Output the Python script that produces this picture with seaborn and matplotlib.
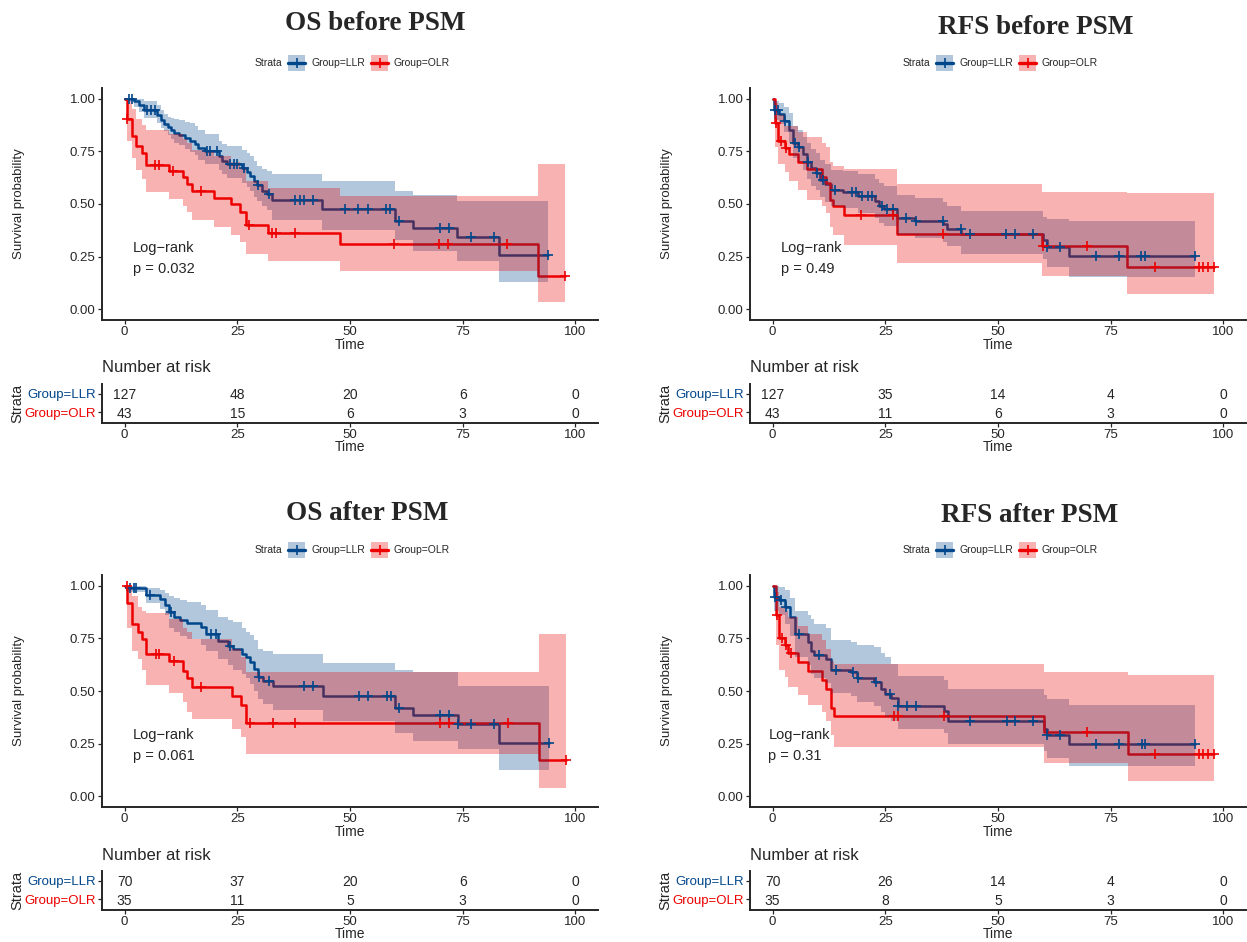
import numpy as np
import matplotlib
matplotlib.use('Agg')
import matplotlib.pyplot as plt
import seaborn as sns
from matplotlib.patches import Rectangle
from matplotlib.lines import Line2D

# ---------------- data ----------------
# OS before PSM
os_pre_llr_t = [2.1, 3.2, 4.3, 7.2, 8.1, 8.7, 9.6, 10.2, 10.9, 12.0, 13.5, 14.6, 15.7, 16.4, 17.9, 20.9, 21.6, 22.7,
                26.0, 27.1, 27.8, 28.7, 29.3, 30.4, 31.5, 32.8, 43.7, 60.0, 63.9, 73.8, 83.0]
os_pre_llr_s = [0.987, 0.971, 0.948, 0.924, 0.900, 0.880, 0.864, 0.853, 0.837, 0.826, 0.814, 0.801, 0.785, 0.766,
                0.750, 0.727, 0.703, 0.690, 0.671, 0.652, 0.632, 0.608, 0.592, 0.564, 0.548, 0.521, 0.477, 0.419,
                0.388, 0.344, 0.257]
os_pre_llr_hi = [1.0, 1.0, 0.99, 0.97, 0.948, 0.925, 0.913, 0.91, 0.905, 0.897, 0.89, 0.884, 0.868, 0.853, 0.834,
                 0.797, 0.785, 0.773, 0.758, 0.742, 0.726, 0.705, 0.678, 0.665, 0.655, 0.643, 0.607, 0.564, 0.542,
                 0.515, 0.515]
os_pre_llr_lo = [0.96, 0.935, 0.91, 0.885, 0.862, 0.845, 0.825, 0.81, 0.79, 0.778, 0.762, 0.748, 0.73, 0.71, 0.69,
                 0.66, 0.64, 0.625, 0.60, 0.58, 0.56, 0.535, 0.515, 0.49, 0.47, 0.425, 0.375, 0.33, 0.277, 0.229, 0.132]
os_pre_llr_cens = [0.9, 1.6, 5.0, 5.8, 6.7, 18.3, 19.0, 20.4, 23.3, 24.2, 24.9, 26.4, 29.7, 32.0, 37.8, 38.9, 39.7,
                   41.7, 48.9, 51.8, 53.9, 57.9, 58.8, 60.9, 69.9, 71.9, 76.9, 81.9, 93.9]
os_pre_olr_t = [0.5, 1.75, 2.6, 3.8, 4.8, 9.9, 12.9, 13.8, 14.9, 19.9, 23.6, 25.6, 26.9, 31.9, 47.7, 91.6]
os_pre_olr_s = [0.905, 0.824, 0.773, 0.742, 0.686, 0.658, 0.626, 0.596, 0.564, 0.528, 0.499, 0.464, 0.399, 0.364,
                0.309, 0.158]
os_pre_olr_hi = [0.99, 0.95, 0.905, 0.875, 0.853, 0.833, 0.81, 0.79, 0.757, 0.727, 0.70, 0.67, 0.61, 0.576, 0.54, 0.689]
os_pre_olr_lo = [0.80, 0.72, 0.66, 0.62, 0.555, 0.525, 0.49, 0.46, 0.425, 0.39, 0.355, 0.32, 0.265, 0.232, 0.18, 0.036]
os_pre_olr_cens = [0.6, 6.8, 7.6, 10.7, 16.9, 27.7, 32.6, 33.5, 37.9, 59.8, 69.8, 71.7, 84.9, 97.7]

# RFS before PSM
rfs_pre_llr_t = [0.3, 1.5, 2.5, 3.6, 4.6, 5.7, 6.8, 7.6, 8.6, 9.6, 10.5, 11.7, 13.0, 15.6, 19.0, 22.7, 23.7, 24.8,
                 27.6, 31.6, 37.9, 38.7, 41.9, 60.0, 60.8, 65.7]
rfs_pre_llr_s = [0.945, 0.925, 0.894, 0.849, 0.791, 0.770, 0.735, 0.700, 0.669, 0.648, 0.616, 0.596, 0.566, 0.558,
                 0.537, 0.513, 0.490, 0.474, 0.434, 0.421, 0.403, 0.382, 0.360, 0.331, 0.295, 0.252]
rfs_pre_llr_hi = [0.99, 0.98, 0.96, 0.93, 0.87, 0.85, 0.82, 0.79, 0.76, 0.74, 0.71, 0.69, 0.66, 0.655, 0.64, 0.62,
                  0.60, 0.585, 0.545, 0.53, 0.51, 0.49, 0.465, 0.44, 0.43, 0.418]
rfs_pre_llr_lo = [0.90, 0.88, 0.84, 0.79, 0.72, 0.70, 0.66, 0.62, 0.585, 0.565, 0.535, 0.51, 0.49, 0.48, 0.458, 0.435,
                  0.41, 0.395, 0.355, 0.34, 0.32, 0.30, 0.265, 0.24, 0.20, 0.152]
rfs_pre_llr_cens = [0.5, 1.3, 2.8, 5.0, 5.9, 7.9, 9.9, 11.1, 13.9, 17.7, 18.6, 19.9, 21.2, 22.0, 24.3, 25.4, 26.7,
                    29.7, 31.8, 37.7, 41.7, 43.7, 51.8, 53.7, 57.8, 60.8, 63.8, 71.7, 76.9, 81.8, 82.7, 93.8]
rfs_pre_olr_t = [0.6, 1.3, 2.7, 3.6, 5.7, 7.7, 10.9, 11.9, 12.8, 13.5, 15.8, 27.6, 59.7, 78.7]
rfs_pre_olr_s = [0.883, 0.80, 0.767, 0.735, 0.699, 0.664, 0.629, 0.60, 0.521, 0.49, 0.45, 0.36, 0.30, 0.201]
rfs_pre_olr_hi = [0.98, 0.92, 0.87, 0.87, 0.84, 0.82, 0.79, 0.77, 0.70, 0.68, 0.667, 0.596, 0.556, 0.55]
rfs_pre_olr_lo = [0.77, 0.69, 0.65, 0.61, 0.565, 0.52, 0.49, 0.455, 0.39, 0.355, 0.307, 0.22, 0.16, 0.074]
rfs_pre_olr_cens = [0.7, 1.9, 3.0, 19.6, 26.7, 37.9, 59.9, 69.8, 84.8, 94.5, 95.5, 96.5, 97.9]

# OS after PSM
os_post_llr_t = [0.6, 4.8, 7.9, 9.0, 9.9, 11.0, 12.3, 13.8, 16.9, 18.0, 20.8, 23.0, 24.1, 26.0, 26.9, 27.8, 28.7,
                 29.5, 30.7, 32.9, 44.0, 59.9, 64.0, 73.9, 83.0]
os_post_llr_s = [0.99, 0.955, 0.936, 0.908, 0.873, 0.852, 0.839, 0.823, 0.804, 0.769, 0.736, 0.713, 0.697, 0.677,
                 0.661, 0.637, 0.605, 0.565, 0.549, 0.525, 0.478, 0.419, 0.385, 0.342, 0.255]
os_post_llr_hi = [1.0, 0.99, 0.98, 0.965, 0.95, 0.94, 0.93, 0.92, 0.908, 0.884, 0.852, 0.835, 0.828, 0.80, 0.78,
                  0.764, 0.74, 0.70, 0.69, 0.674, 0.634, 0.60, 0.59, 0.525, 0.525]
os_post_llr_lo = [0.97, 0.916, 0.89, 0.86, 0.80, 0.78, 0.76, 0.745, 0.72, 0.69, 0.65, 0.625, 0.60, 0.58, 0.56, 0.535,
                  0.50, 0.46, 0.44, 0.411, 0.358, 0.30, 0.265, 0.223, 0.124]
os_post_llr_cens = [1.1, 2.0, 2.6, 5.7, 10.2, 19.1, 20.2, 23.4, 29.8, 32.0, 39.9, 41.9, 51.9, 53.9, 58.1, 59.0, 60.9,
                    69.9, 71.9, 73.9, 76.9, 82.0, 94.2]
os_post_olr_t = [0.6, 1.75, 2.9, 3.9, 4.8, 9.9, 12.9, 13.8, 14.9, 23.8, 25.9, 26.9, 92.0]
os_post_olr_s = [0.916, 0.817, 0.78, 0.745, 0.677, 0.64, 0.597, 0.562, 0.521, 0.478, 0.435, 0.346, 0.175]
os_post_olr_hi = [0.99, 0.95, 0.90, 0.88, 0.868, 0.84, 0.80, 0.78, 0.745, 0.70, 0.66, 0.592, 0.768]
os_post_olr_lo = [0.80, 0.69, 0.65, 0.60, 0.53, 0.49, 0.446, 0.40, 0.366, 0.32, 0.28, 0.202, 0.04]
os_post_olr_cens = [0.5, 7.0, 7.7, 11.0, 16.9, 27.8, 32.9, 37.9, 69.9, 71.9, 85.0, 97.9]

# RFS after PSM
rfs_post_llr_t = [0.4, 1.5, 2.7, 3.8, 4.9, 7.8, 8.6, 9.3, 11.9, 13.0, 17.5, 18.7, 22.6, 24.0, 24.9, 26.3, 27.9, 38.0,
                  39.0, 60.2, 60.9, 65.8]
rfs_post_llr_s = [0.944, 0.93, 0.897, 0.851, 0.768, 0.734, 0.692, 0.672, 0.652, 0.601, 0.588, 0.564, 0.544, 0.509,
                  0.485, 0.469, 0.429, 0.405, 0.358, 0.321, 0.291, 0.25]
rfs_post_llr_hi = [1.0, 0.995, 0.98, 0.94, 0.88, 0.86, 0.84, 0.82, 0.80, 0.74, 0.73, 0.72, 0.71, 0.68, 0.66, 0.63,
                   0.57, 0.55, 0.51, 0.48, 0.46, 0.432]
rfs_post_llr_lo = [0.88, 0.86, 0.82, 0.76, 0.66, 0.625, 0.58, 0.56, 0.54, 0.49, 0.475, 0.45, 0.43, 0.40, 0.375, 0.36,
                   0.32, 0.30, 0.25, 0.215, 0.183, 0.146]
rfs_post_llr_cens = [0.6, 1.8, 2.9, 5.9, 10.2, 14.0, 17.8, 18.9, 23.0, 26.0, 27.9, 29.9, 31.8, 43.8, 51.9, 53.8, 57.8,
                     60.9, 63.8, 71.8, 76.9, 81.9, 82.7, 93.8]
rfs_post_olr_t = [0.8, 1.5, 2.7, 3.5, 5.7, 7.9, 10.9, 11.9, 12.9, 13.6, 60.1, 78.8]
rfs_post_olr_s = [0.858, 0.752, 0.719, 0.679, 0.636, 0.593, 0.553, 0.509, 0.421, 0.382, 0.305, 0.202]
rfs_post_olr_hi = [0.97, 0.90, 0.88, 0.85, 0.81, 0.77, 0.74, 0.70, 0.64, 0.628, 0.591, 0.576]
rfs_post_olr_lo = [0.72, 0.60, 0.565, 0.52, 0.48, 0.435, 0.40, 0.36, 0.29, 0.234, 0.159, 0.072]
rfs_post_olr_cens = [0.9, 2.1, 3.0, 4.0, 27.0, 27.9, 38.0, 69.8, 84.9, 94.5, 95.5, 96.5, 97.9]

# number at risk at 0, 25, 50, 75, 100
risk_times = [0, 25, 50, 75, 100]
risk_os_pre_llr = [127, 48, 20, 6, 0]
risk_os_pre_olr = [43, 15, 6, 3, 0]
risk_rfs_pre_llr = [127, 35, 14, 4, 0]
risk_rfs_pre_olr = [43, 11, 6, 3, 0]
risk_os_post_llr = [70, 37, 20, 6, 0]
risk_os_post_olr = [35, 11, 5, 3, 0]
risk_rfs_post_llr = [70, 26, 14, 4, 0]
risk_rfs_post_olr = [35, 8, 5, 3, 0]

titles = ['OS before PSM', 'RFS before PSM', 'OS after PSM', 'RFS after PSM']
pvals = ['0.032', '0.49', '0.061', '0.31']
groups = ['Group=LLR', 'Group=OLR']

# ---------------- style ----------------
sns.set_style('ticks')
plt.rcParams['font.family'] = ['Liberation Sans', 'DejaVu Sans']
plt.rcParams['axes.linewidth'] = 1.4

BLUE = '#00468B'
RED = '#ED0000'
colors = [BLUE, RED]

W, H = 1247, 942
fig = plt.figure(figsize=(W / 100, H / 100), dpi=100)


def rect(left, top, w, h):
    return [left / W, 1 - (top + h) / H, w / W, h / H]


def step_value(t, s, x):
    i = np.searchsorted(t, x, side='right') - 1
    return 1.0 if i < 0 else s[i]


panels = [
    dict(curves=[(os_pre_llr_t, os_pre_llr_s, os_pre_llr_lo, os_pre_llr_hi, os_pre_llr_cens),
                 (os_pre_olr_t, os_pre_olr_s, os_pre_olr_lo, os_pre_olr_hi, os_pre_olr_cens)],
         risk=[risk_os_pre_llr, risk_os_pre_olr], dx=0, dy=0, title_x=375, title_dy=24, ptx=1.8),
    dict(curves=[(rfs_pre_llr_t, rfs_pre_llr_s, rfs_pre_llr_lo, rfs_pre_llr_hi, rfs_pre_llr_cens),
                 (rfs_pre_olr_t, rfs_pre_olr_s, rfs_pre_olr_lo, rfs_pre_olr_hi, rfs_pre_olr_cens)],
         risk=[risk_rfs_pre_llr, risk_rfs_pre_olr], dx=648, dy=0, title_x=1036, title_dy=27, ptx=1.9),
    dict(curves=[(os_post_llr_t, os_post_llr_s, os_post_llr_lo, os_post_llr_hi, os_post_llr_cens),
                 (os_post_olr_t, os_post_olr_s, os_post_olr_lo, os_post_olr_hi, os_post_olr_cens)],
         risk=[risk_os_post_llr, risk_os_post_olr], dx=0, dy=487, title_x=367, title_dy=26, ptx=1.9),
    dict(curves=[(rfs_post_llr_t, rfs_post_llr_s, rfs_post_llr_lo, rfs_post_llr_hi, rfs_post_llr_cens),
                 (rfs_post_olr_t, rfs_post_olr_s, rfs_post_olr_lo, rfs_post_olr_hi, rfs_post_olr_cens)],
         risk=[risk_rfs_post_llr, risk_rfs_post_olr], dx=648, dy=487, title_x=1030, title_dy=28, ptx=-0.9),
]

for k, p in enumerate(panels):
    dx, dy = p['dx'], p['dy']

    # title
    fig.text(p['title_x'] / W, 1 - (p['title_dy'] + dy) / H, titles[k], ha='center', va='center',
             fontsize=19.5, fontweight='bold', family='Liberation Serif')

    # legend
    ly = 63 + dy
    fig.text((255 + dx) / W, 1 - ly / H, 'Strata', ha='left', va='center', fontsize=7.5)
    for g, (kx, tx) in enumerate([(288, 311), (371, 393)]):
        fig.add_artist(Rectangle(((kx + dx) / W, 1 - (ly + 8) / H), 17 / W, 16 / H, transform=fig.transFigure,
                                 facecolor=colors[g], alpha=0.3, lw=0))
        fig.add_artist(Line2D([(kx + dx) / W, (kx + dx + 17) / W], [1 - ly / H, 1 - ly / H],
                              transform=fig.transFigure, color=colors[g], lw=2.4))
        fig.add_artist(Line2D([(kx + dx + 8.5) / W], [1 - ly / H], transform=fig.transFigure, color=colors[g],
                              marker='+', markersize=7, mew=1.2, lw=0))
        fig.text((tx + dx) / W, 1 - ly / H, groups[g], ha='left', va='center', fontsize=7.5)

    # survival curves
    ax = fig.add_axes(rect(102 + dx, 88 + dy, 496, 232))
    for g, (t, s, lo, hi, cens) in enumerate(p['curves']):
        end = max(cens[-1], t[-1])
        sns.lineplot(x=np.r_[0, t, end], y=np.r_[1, s, s[-1]], ax=ax, color=colors[g], lw=1.8,
                     drawstyle='steps-post', estimator=None, sort=False, zorder=1)
    for g, (t, s, lo, hi, cens) in enumerate(p['curves']):
        end = max(cens[-1], t[-1])
        ax.fill_between(np.r_[0, t, end], np.r_[1, lo, lo[-1]], np.r_[1, hi, hi[-1]], step='post',
                        color=colors[g], alpha=0.3, lw=0, zorder=2 + g)
    for g, (t, s, lo, hi, cens) in enumerate(p['curves']):
        cy = [step_value(np.array(t), s, c) for c in cens]
        sns.scatterplot(x=cens, y=cy, ax=ax, marker='+', s=50, color=colors[g], linewidth=1.2, zorder=5)
    ax.set_xlim(-5, 105)
    ax.set_ylim(-0.05, 1.05)
    ax.set_xticks([0, 25, 50, 75, 100])
    ax.set_yticks([0, 0.25, 0.5, 0.75, 1.0])
    ax.set_yticklabels(['0.00', '0.25', '0.50', '0.75', '1.00'])
    ax.tick_params(labelsize=9.5, length=3, width=0.9, pad=1.5)
    ax.set_xlabel('Time', fontsize=10)
    ax.xaxis.label.set_va('center')
    ax.xaxis.set_label_coords(0.5, -25 / 232)
    ax.set_ylabel('Survival probability', fontsize=9.5)
    ax.yaxis.set_label_coords(-0.155, 0.5)
    ax.text(p['ptx'], 0.30, 'Log\u2212rank', ha='left', va='center_baseline', fontsize=10.5)
    ax.text(p['ptx'], 0.20, 'p = ' + pvals[k], ha='left', va='center_baseline', fontsize=10.5)
    sns.despine(ax=ax)

    # risk table
    axr = fig.add_axes(rect(102 + dx, 384 + dy, 496, 39))
    for g, counts in enumerate(p['risk']):
        for xt, n in zip(risk_times, counts):
            axr.text(xt, 1 - g, str(n), ha='center', va='center_baseline', fontsize=10)
    axr.set_xlim(-5, 105)
    axr.set_ylim(-0.6, 1.55)
    axr.set_xticks([0, 25, 50, 75, 100])
    axr.set_yticks([1, 0])
    axr.set_yticklabels(groups)
    for lab, c in zip(axr.get_yticklabels(), colors):
        lab.set_color(c)
    axr.tick_params(axis='x', labelsize=9.5, length=3, width=0.9, pad=1.5)
    axr.tick_params(axis='y', labelsize=9.5, length=3, width=0.9, pad=1.5)
    axr.set_xlabel('Time', fontsize=10)
    axr.xaxis.label.set_va('center')
    axr.xaxis.set_label_coords(0.5, -24 / 39)
    axr.set_ylabel('Strata', fontsize=10.5)
    axr.yaxis.set_label_coords(-0.157, 0.5)
    axr.text(0, 1 + 16 / 39, 'Number at risk', transform=axr.transAxes, ha='left', va='center', fontsize=12)
    sns.despine(ax=axr)

fig.savefig('out.png', dpi=100)
